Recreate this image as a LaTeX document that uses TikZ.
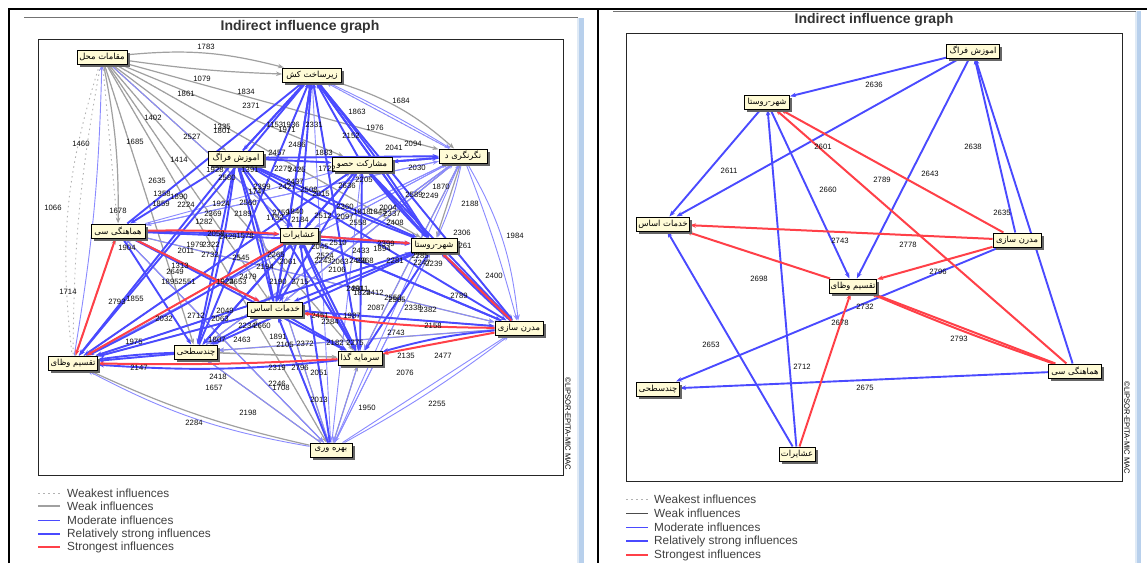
\documentclass[tikz,border=0pt]{standalone}
\usepackage{fontspec}
\setmainfont{Liberation Sans}
\newfontfamily\arf[Script=Arabic]{DejaVu Sans}
\TeXXeTstate=1
\usetikzlibrary{arrows.meta,shadows,bending}
\pgfdeclarelayer{bg}
\pgfsetlayers{bg,main}
\definecolor{redE}{HTML}{FF4048}
\definecolor{blueE}{HTML}{4A4AFF}
\definecolor{blueM}{HTML}{8A8AFF}
\definecolor{grayE}{HTML}{A0A0A0}
\definecolor{boxF}{HTML}{FFFBD6}
\definecolor{barB}{HTML}{B8D0EC}
\tikzset{
  fac/.style={draw=black,line width=1pt,fill=boxF,inner sep=0pt,minimum height=14pt,
    font=\fontsize{8.4}{9}\arf,general shadow={fill=black!60,shadow xshift=2.5pt,shadow yshift=-2.5pt}},
  num/.style={inner sep=0pt,font=\fontsize{7.7}{8}\selectfont,text=black!95},
  tip/.style={-{Stealth[length=6pt,width=4.5pt]}},
  weakest/.style={draw=black!30,line width=.9pt,dash pattern=on 1.5pt off 3.5pt},
  weak/.style={draw=grayE,line width=1.2pt,tip},
  moder/.style={draw=blueM,line width=.9pt,tip},
  rstrong/.style={draw=blueE,line width=1.9pt,tip},
  strongest/.style={draw=redE,line width=2pt,tip},
  ttl/.style={inner sep=0pt,font=\fontsize{14}{15}\selectfont\bfseries,text=black!80},
  lgd/.style={inner sep=0pt,anchor=west,font=\fontsize{11.8}{13}\selectfont,text=black!75},
  stamp/.style={inner sep=0pt,rotate=-90,font=\fontsize{7.6}{8}\selectfont,text=black},
  frm/.style={draw=black!85,line width=.9pt},
  panel/.style={draw=black,line width=2pt}
}
\begin{document}
\begin{tikzpicture}[x=1pt,y=-1pt]
\useasboundingbox (0,0) rectangle (1147,563);
% ---------- left graph nodes
\node[fac,minimum width=50pt] (lA) at (102,57) {\beginR مقامات محل\endR};
\node[fac,minimum width=59pt] (lB) at (312,75) {\beginR زیرساخت کش\endR};
\node[fac,minimum width=55pt] (lC) at (236,158) {\beginR اموزش فراگ\endR};
\node[fac,minimum width=60pt] (lD) at (362,164) {\beginR مشارکت حصو\endR};
\node[fac,minimum width=48pt] (lE) at (463,156) {\beginR نگرنگری د\endR};
\node[fac,minimum width=54pt] (lF) at (118,231) {\beginR هماهنگی سی\endR};
\node[fac,minimum width=38pt] (lG) at (299,235) {\beginR عشایرات\endR};
\node[fac,minimum width=46pt] (lH) at (434,245) {\beginR شهر-روستا\endR};
\node[fac,minimum width=55pt] (lI) at (275,309) {\beginR خدمات اساس\endR};
\node[fac,minimum width=48pt] (lJ) at (519,328) {\beginR مدرن سازی\endR};
\node[fac,minimum width=49pt] (lK) at (73,363) {\beginR تقسیم وظای\endR};
\node[fac,minimum width=43pt] (lL) at (196,352) {\beginR چندسطحی\endR};
\node[fac,minimum width=44pt] (lM) at (360,358) {\beginR سرمایه گذا\endR};
\node[fac,minimum width=42pt] (lN) at (331,450) {\beginR بهره وری\endR};
% ---------- right graph nodes
\node[fac,minimum width=53pt] (rA) at (973,51) {\beginR اموزش فراگ\endR};
\node[fac,minimum width=45pt] (rB) at (767,102) {\beginR شهر-روستا\endR};
\node[fac,minimum width=53pt] (rC) at (663,224) {\beginR خدمات اساس\endR};
\node[fac,minimum width=48pt] (rD) at (1017,240) {\beginR مدرن سازی\endR};
\node[fac,minimum width=47pt] (rE) at (853,286) {\beginR تقسیم وظای\endR};
\node[fac,minimum width=53pt] (rF) at (1075,371) {\beginR هماهنگی سی\endR};
\node[fac,minimum width=43pt] (rG) at (658,389) {\beginR چندسطحی\endR};
\node[fac,minimum width=36pt] (rH) at (797,454) {\beginR عشایرات\endR};
% ---------- titles, stamps
\node[ttl] (tl) at (300,27) {Indirect influence graph};
\node[ttl] (tr) at (874,20) {Indirect influence graph};
\node[stamp] (sl) at (568,424) {©LIPSOR-EPITA-MIC MAC};
\node[stamp] (sr) at (1127,428) {©LIPSOR-EPITA-MIC MAC};
% ---------- legends
\foreach \t/\y/\k in {Weakest influences/493/a,Weak influences/506/b,Moderate influences/520/c,Relatively strong influences/534/d,Strongest influences/547/e}
  \node[lgd] (gl\k) at (67,\y) {\t};
\foreach \t/\y/\k in {Weakest influences/499/a,Weak influences/513/b,Moderate influences/527/c,Relatively strong influences/541/d,Strongest influences/555/e}
  \node[lgd] (gr\k) at (654,\y) {\t};
% ---------- right labels
\foreach \t/\x/\y in {2636/874/85,2611/729/171,2601/823/147,2660/828/190,2789/882/180,2643/930/174,2638/973/147,2635/1002/213,2778/908/245,2796/938/272,2743/840/241,2698/759/279,2732/865/307,2678/840/323,2793/959/339,2653/711/345,2712/802/367,2675/865/388}
  \node[num,name=rn\t] at (\x,\y) {\t};
% ---------- left labels
\foreach \t/\x/\y [count=\i] in {1783/206/47,1079/202/79,1834/246/92,1861/186/94,2371/251/106,1402/153/118,1335/222/127,1801/222/131,2527/192/137,1153/275/125,1936/291/125,1971/287/130,1685/135/142,1460/81/144,1414/179/160,2486/297/145,2457/277/153,1928/215/170,1391/250/170,2580/227/178,2275/283/169,2425/297/170,2635/157/181,1358/162/194,1890/179/197,1859/161/204,2224/186/205,1924/221/204,2560/248/203,2369/213/214,2189/243/214,2399/262/187,2427/287/187,1747/257/192,1066/53/208,1678/118/211,1282/204/222,2058/216/234,2429/228/237,1578/245/236,2322/211/245,1979/195/245,2732/210/255,2011/186/251,1904/127/248,2545/241/258,1313/180/266,2649/175/272,1895/170/282,2551/187/282,1924/225/282,2653/238/282,2479/248/277,2265/276/255,2061/288/262,2194/265/267,2190/278/282,2715/300/282,1855/135/299,2793/117/302,2032/164/319,2712/196/316,2049/225/311,2063/220/319,2234/247/326,2660/262/326,1975/134/342,1807/217/340,2463/242/340,1891/278/337,2105/285/345,2372/305/344,2147/139/368,2319/277/368,2796/300/368,2418/218/377,1657/214/388,2246/277/384,1708/281/388,2198/248/413,2284/194/423,2051/319/373,2013/319/400,1950/367/408,2255/437/404,2076/405/373,2135/406/356,2477/443/356,2743/396/333,2158/433/326,2789/459/296,1714/68/292,1684/401/101,1863/357/112,1976/375/128,2152/351/136,2041/394/148,2094/413/144,2331/314/125,1883/324/153,1722/327/169,2030/417/168,2205/364/180,2636/347/186,2508/309/190,2015/321/194,2589/414/195,2249/430/196,1870/441/187,2188/470/204,2306/462/233,261/465/246,1984/515/236,2400/494/276,2360/345/207,2097/345/217,2512/323/216,1818/362/212,1845/378/212,2004/388/208,2337/392/214,2558/358/223,2408/395/223,2510/338/243,2045/320/247,2524/325/256,1894/382/249,2399/386/244,2433/361/251,2243/323/261,2063/340/262,2438/358/261,2368/365/261,2281/395/261,2106/337/270,2285/420/256,2247/422/263,2239/434/264,2491/355/289,2011/360/289,1824/362/293,2412/375/293,2550/393/298,2505/397/300,2087/376/308,2338/413/308,2382/428/310,2451/320/316,2284/330/322,1987/352/316,2182/335/343,2275/355/343,1840/295/212,2184/300/220,2759/281/213,1752/275/218,2437/295/182}
  \node[num,name=ln\i] at (\x,\y) {\t};
% ---------- everything behind the nodes
\begin{pgfonlayer}{bg}
\fill[white] (0,0) rectangle (1147,563);
% screen furniture
\fill[barB!45] (577,18) rectangle (579,563);
\fill[barB] (579,18) rectangle (584,563);
\fill[barB!45] (1135,11) rectangle (1137,563);
\fill[barB] (1137,11) rectangle (1141,563);
\draw[black!55,line width=.8pt] (24,17.5) -- (578,17.5);
\draw[black!55,line width=.8pt] (613,11) -- (1136,11);
\draw[panel] (9,563) -- (9,9) -- (1147,9);
\draw[panel] (598,9) -- (598,563);
\draw[frm] (38,39) rectangle (563,475);
\draw[frm] (626,33) rectangle (1122,481);
% legend keys
\draw[weakest] (38,493) -- (60,493);
\draw[weak,-] (38,506) -- (60,506);
\draw[draw=blueE,line width=1pt] (38,520) -- (60,520);
\draw[draw=blueE,line width=1.9pt] (38,534) -- (60,534);
\draw[draw=redE,line width=2pt] (38,547) -- (60,547);
\draw[weakest] (626,499) -- (648,499);
\draw[draw=black!70,line width=.8pt] (626,513) -- (648,513);
\draw[draw=blueE,line width=1pt] (626,527) -- (648,527);
\draw[draw=blueE,line width=1.9pt] (626,541) -- (648,541);
\draw[draw=redE,line width=2pt] (626,555) -- (648,555);
% ---------- right graph connectors
\foreach \a/\b in {rA/rB,rA/rC,rB/rC,rH/rB,rH/rC,rB/rE,rA/rE,rD/rA,rF/rA,rD/rG,rF/rG}
  \draw[rstrong] (\a) -- (\b);
\foreach \a/\b in {rD/rB,rF/rB,rD/rC,rE/rC,rD/rE,rF/rE,rH/rE}
  \draw[strongest] (\a) -- (\b);
\draw[strongest] (rF) to[bend left=2] (rE);
% ---------- left graph connectors
\foreach \a/\b in {lA/lF,lA/lL,lA/lI,lA/lG,lA/lM,lA/lH,lA/lN,lC/lE,lB/lE}
  \draw[weakest] (\a) -- (\b);
\draw[weakest] (lA) to[bend right=12] (lK);
\draw[weakest] (lA) to[bend right=5] (lK);
\foreach \a/\b in {lA/lC,lA/lD,lA/lE,lA/lI,lA/lH,lA/lL,lA/lM,lA/lN,lA/lG,lD/lH,lE/lH,lE/lM,lB/lJ,lE/lI,lE/lL,lJ/lL,lN/lL,lN/lI,lN/lM,lK/lF,lK/lG,lK/lI,lG/lL,lI/lJ,lC/lN,lF/lN,lF/lJ,lK/lD,lK/lH,lB/lM,lC/lM,lG/lM}
  \draw[weak] (\a) -- (\b);
\draw[weak] (lA) to[bend left=10] (lB);
\draw[weak] (lA) to[bend right=3] (lB);
\draw[weak] (lB) to[bend left=12] (lE);
\draw[weak] (lA) to[bend left=6] (lF);
\draw[weak] (lN) to[bend left=6] (lK);
\draw[weak,line width=1.5pt] (lL) -- (lM);
\foreach \a/\b in {lA/lG,lE/lB,lE/lC,lE/lG,lE/lI,lE/lM,lE/lL,lE/lF,lE/lK,lN/lH,lN/lE,lN/lC,lN/lF,lN/lD,lN/lL,lK/lC,lK/lD,lK/lH,lK/lE,lL/lD,lL/lE,lL/lH,lF/lD,lF/lE,lF/lJ,lF/lN,lI/lD,lI/lE,lM/lD,lM/lC,lJ/lL,lJ/lI,lG/lE,lG/lN,lH/lN,lB/lN,lM/lN}
  \draw[moder] (\a) -- (\b);
\draw[moder] (lK) to[bend right=4] (lA);
\draw[moder] (lB) to[bend left=3] (lE);
\draw[moder] (lE) to[bend left=6] (lH);
\draw[moder] (lE) to[bend left=12] (lJ);
\draw[moder] (lE) to[bend left=3] (lJ);
\draw[moder] (lN) to[bend right=4] (lJ);
\draw[moder] (lN) to (lJ);
\draw[moder] (lN) to[bend left=9] (lK);
\foreach \a/\b in {lF/lB,lB/lC,lC/lB,lG/lB,lH/lB,lI/lB,lD/lB,lL/lB,lM/lB,lC/lE,lD/lE,lC/lD,lC/lG,lC/lH,lC/lI,lC/lJ,lC/lL,lC/lK,lC/lM,lC/lF,lD/lH,lD/lJ,lD/lI,lD/lG,lD/lL,lD/lK,lD/lM,lF/lH,lF/lG,lF/lI,lF/lL,lF/lM,lG/lH,lG/lI,lG/lJ,lG/lL,lG/lM,lH/lI,lH/lJ,lH/lM,lH/lL,lH/lK,lI/lJ,lI/lL,lI/lM,lI/lK,lJ/lH,lJ/lG,lL/lK,lN/lI,lN/lG,lB/lH,lB/lJ,lB/lI,lB/lK,lE/lD}
  \draw[rstrong] (\a) -- (\b);
\draw[rstrong] (lB) to[bend left=3] (lH);
\draw[rstrong] (lD) to[bend right=3] (lH);
\draw[rstrong] (lC) to[bend left=4] (lL);
\draw[rstrong] (lG) to[bend left=3] (lK);
\draw[rstrong] (lH) to[bend left=3] (lC);
\draw[rstrong] (lM) to[bend left=4] (lG);
\draw[rstrong] (lI) to[bend right=4] (lC);
\draw[rstrong] (lJ) to[bend right=5] (lM);
\draw[rstrong] (lM) to[bend left=5] (lK);
\draw[rstrong] (lL) to[bend right=3] (lK);
\draw[rstrong] (lJ) to[bend left=3] (lH);
\draw[strongest] (lF) to[bend left=2] (lG);
\draw[strongest] (lG) -- (lH);
\draw[strongest] (lF) -- (lI);
\draw[strongest] (lG) -- (lK);
\draw[strongest] (lF) -- (lK);
\draw[strongest] (lJ) -- (lH);
\draw[strongest] (lJ) to[bend left=4] (lI);
\draw[strongest] (lJ) -- (lM);
\draw[strongest] (lM) to[bend left=2] (lK);
\end{pgfonlayer}
\end{tikzpicture}
\end{document}
